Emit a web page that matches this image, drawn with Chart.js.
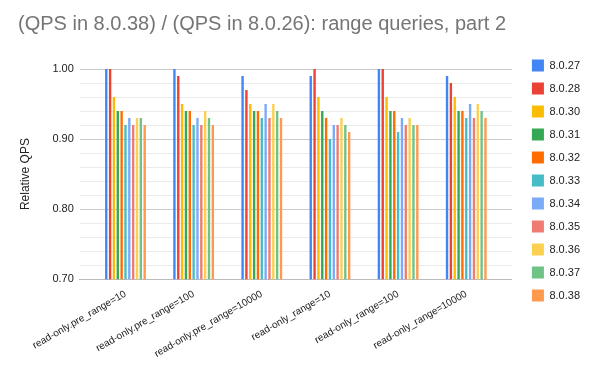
<!DOCTYPE html>
<html>
<head>
<meta charset="utf-8">
<script src="https://cdn.jsdelivr.net/npm/chart.js@4"></script>
<style>
  body { margin: 0; background: #fff; }
  #wrap { width: 600px; height: 371px; }
</style>
</head>
<body>
<div id="wrap"><canvas id="qpsChart"></canvas></div>
<script>
const categories = [
  'read-only.pre_range=10',
  'read-only.pre_range=100',
  'read-only.pre_range=10000',
  'read-only_range=10',
  'read-only_range=100',
  'read-only_range=10000'
];

const versions = ['8.0.27', '8.0.28', '8.0.30', '8.0.31', '8.0.32', '8.0.33', '8.0.34', '8.0.35', '8.0.36', '8.0.37', '8.0.38'];

const v8027 = [1.00, 1.00, 0.99, 0.99, 1.00, 0.99];
const v8028 = [1.00, 0.99, 0.97, 1.00, 1.00, 0.98];
const v8030 = [0.96, 0.95, 0.95, 0.96, 0.96, 0.96];
const v8031 = [0.94, 0.94, 0.94, 0.94, 0.94, 0.94];
const v8032 = [0.94, 0.94, 0.94, 0.93, 0.94, 0.94];
const v8033 = [0.92, 0.92, 0.93, 0.90, 0.91, 0.93];
const v8034 = [0.93, 0.93, 0.95, 0.92, 0.93, 0.95];
const v8035 = [0.92, 0.92, 0.93, 0.92, 0.92, 0.93];
const v8036 = [0.93, 0.94, 0.95, 0.93, 0.93, 0.95];
const v8037 = [0.93, 0.93, 0.94, 0.92, 0.92, 0.94];
const v8038 = [0.92, 0.92, 0.93, 0.91, 0.92, 0.93];

const seriesValues = [v8027, v8028, v8030, v8031, v8032, v8033, v8034, v8035, v8036, v8037, v8038];

const colors = ['#4285f4', '#ea4335', '#fbbc04', '#34a853', '#ff6d01', '#46bdc6', '#7baaf7', '#f07b72', '#fcd04f', '#71c287', '#ff994d'];

const datasets = versions.map((v, i) => ({
  label: v,
  data: seriesValues[i],
  backgroundColor: colors[i],
  borderWidth: 0,
  categoryPercentage: 0.62,
  barPercentage: 0.62
}));

const edge = 0.17; // extra room at both ends of the category axis, like Sheets

Chart.defaults.font.family = 'Arial, "Liberation Sans", sans-serif';

new Chart(document.getElementById('qpsChart'), {
  type: 'bar',
  data: { labels: categories, datasets: datasets },
  options: {
    responsive: true,
    maintainAspectRatio: false,
    animation: false,
    layout: { padding: { left: 18, right: 10, top: 0, bottom: 10 } },
    plugins: {
      title: {
        display: true,
        text: '(QPS in 8.0.38) / (QPS in 8.0.26): range queries, part 2',
        align: 'start',
        color: '#757575',
        font: { size: 20, weight: 'normal' },
        padding: { top: 12, bottom: 33 }
      },
      legend: {
        position: 'right',
        labels: {
          boxWidth: 12,
          boxHeight: 12,
          padding: 11,
          color: '#222',
          font: { size: 11 }
        }
      },
      tooltip: { enabled: false }
    },
    scales: {
      x: {
        afterBuildTicks: (scale) => {
          scale.ticks = categories.map((c, i) => ({ value: i }));
          scale._startValue = -0.5 - edge;
          scale._valueRange = categories.length + 2 * edge;
        },
        grid: { display: false },
        border: { color: '#bbb' },
        ticks: {
          color: '#222',
          font: { size: 10 },
          padding: 1,
          minRotation: 30,
          maxRotation: 30
        }
      },
      y: {
        min: 0.7,
        max: 1.0,
        title: {
          display: true,
          text: 'Relative QPS',
          color: '#222',
          font: { size: 12 },
          padding: { top: 0, bottom: 14 }
        },
        border: { display: false },
        grid: {
          drawTicks: false,
          color: (c) => {
            const v = Math.round(c.tick.value * 100);
            return v % 10 === 0 ? '#cccccc' : '#ebebeb';
          }
        },
        ticks: {
          stepSize: 0.02,
          autoSkip: false,
          padding: 6,
          color: '#222',
          font: { size: 11 },
          callback: (value) => {
            const v = Math.round(value * 100);
            return v % 10 === 0 ? (v / 100).toFixed(2) : '';
          }
        }
      },
      // empty spacer between the plot and the legend
      gap: {
        position: 'right',
        grid: { display: false },
        border: { display: false },
        ticks: { display: false },
        afterFit: (scale) => { scale.width = 9; }
      }
    }
  }
});
</script>
</body>
</html>
